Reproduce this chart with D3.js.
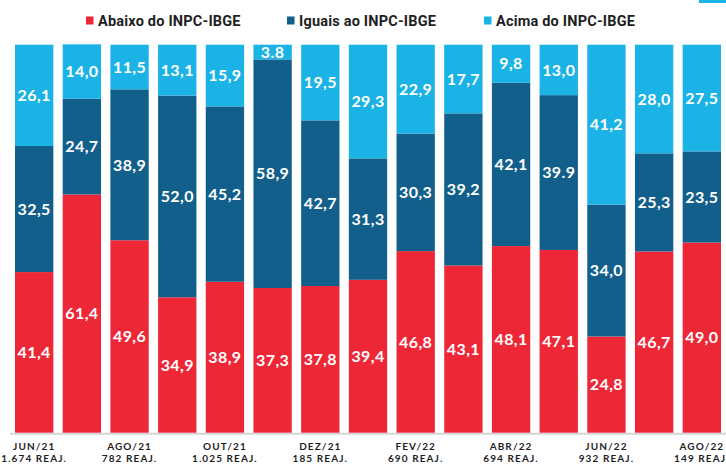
<!DOCTYPE html>
<html>
<head>
<meta charset="utf-8">
<script src="https://cdn.jsdelivr.net/npm/d3@7"></script>
<style>
  html, body { margin: 0; padding: 0; background: #ffffff; }
  svg { display: block; }
</style>
</head>
<body>
<svg id="chart" width="726" height="464"></svg>
<script>
// ---- Data ----
const months = ["JUN/21","JUL/21","AGO/21","SET/21","OUT/21","NOV/21","DEZ/21","JAN/22","FEV/22","MAR/22","ABR/22","MAI/22","JUN/22","JUL/22","AGO/22"];
const abaixo = [41.4, 61.4, 49.6, 34.9, 38.9, 37.3, 37.8, 39.4, 46.8, 43.1, 48.1, 47.1, 24.8, 46.7, 49.0];
const iguais = [32.5, 24.7, 38.9, 52.0, 45.2, 58.9, 42.7, 31.3, 30.3, 39.2, 42.1, 39.9, 34.0, 25.3, 23.5];
const acima  = [26.1, 14.0, 11.5, 13.1, 15.9, 3.8, 19.5, 29.3, 22.9, 17.7, 9.8, 13.0, 41.2, 28.0, 27.5];
const tickMonths = ["JUN/21","AGO/21","OUT/21","DEZ/21","FEV/22","ABR/22","JUN/22","AGO/22"];
const tickReaj   = ["1.674 REAJ.","782 REAJ.","1.025 REAJ.","185 REAJ.","690 REAJ.","694 REAJ.","932 REAJ.","149 REAJ."];
const seriesNames = ["Abaixo do INPC-IBGE","Iguais ao INPC-IBGE","Acima do INPC-IBGE"];
// labels printed with a period instead of a comma in the original
const dotLabels = { iguais: [11], acima: [5] };

const colors = { abaixo: "#EE2737", iguais: "#135F8C", acima: "#1BB3E5" };

// ---- Build ----
const svg = d3.select("#chart");
const x = d3.scaleBand().domain(months).range([15, 721]).paddingInner(0.196).paddingOuter(0);
const y = d3.scaleLinear().domain([0, 100]).range([432.7, 44.7]);

const keys = ["abaixo", "iguais", "acima"];
const table = months.map((m, i) => ({ month: m, abaixo: abaixo[i], iguais: iguais[i], acima: acima[i] }));
const stacked = d3.stack().keys(keys)(table);

const fmtNum = (v, key, i) => {
  const s = d3.format(".1f")(v);
  return (dotLabels[key] || []).includes(i) ? s : s.replace(".", ",");
};

// baseline
svg.append("line")
  .attr("x1", 10).attr("x2", 726)
  .attr("y1", y(0) + 1).attr("y2", y(0) + 1)
  .attr("stroke", "#d4d4d4").attr("stroke-width", 2);

const groups = svg.selectAll("g.series").data(stacked).join("g")
  .attr("class", "series")
  .attr("fill", d => colors[d.key]);

groups.selectAll("rect").data(d => d).join("rect")
  .attr("x", d => x(d.data.month))
  .attr("width", x.bandwidth())
  .attr("y", d => y(d[1]))
  .attr("height", d => y(d[0]) - y(d[1]));

// value labels
stacked.forEach(s => {
  svg.append("g").selectAll("text").data(s).join("text")
    .attr("x", d => x(d.data.month) + x.bandwidth() / 2)
    .attr("y", d => (y(d[0]) + y(d[1])) / 2)
    .attr("dy", "0.36em")
    .attr("text-anchor", "middle")
    .attr("fill", "#ffffff")
    .attr("font-family", "Lato, 'Open Sans', sans-serif")
    .attr("font-weight", 700)
    .attr("font-size", 16)
    .attr("letter-spacing", 0.4)
    .text((d, i) => fmtNum(d[1] - d[0], s.key, i));
});

// x axis labels (every other month)
const axisG = svg.append("g");
tickMonths.forEach((m, i) => {
  const cx = x(m) + x.bandwidth() / 2;
  const t = axisG.append("text")
    .attr("x", cx).attr("y", 450)
    .attr("text-anchor", "middle")
    .attr("fill", "#1e1e1e")
    .attr("font-family", "Lato, sans-serif")
    .attr("font-weight", 700)
    .attr("font-size", 10)
    .attr("letter-spacing", 1.1);
  t.append("tspan").attr("x", cx).attr("y", 450).text(m);
  t.append("tspan").attr("x", cx).attr("y", 462).text(tickReaj[i]);
});

// legend
const legendX = [86, 287, 484];
const legend = svg.append("g");
keys.forEach((k, i) => {
  legend.append("rect")
    .attr("x", legendX[i]).attr("y", 16.5)
    .attr("width", 7.5).attr("height", 8)
    .attr("fill", colors[k]);
  legend.append("text")
    .attr("x", legendX[i] + 12).attr("y", 25.5)
    .attr("fill", "#1e1e1e")
    .attr("font-family", "Roboto, sans-serif")
    .attr("font-weight", 700)
    .attr("font-size", 14.5)
    .attr("letter-spacing", 0.2)
    .text(seriesNames[i]);
});

// small accent at top right
svg.append("rect").attr("x", 699).attr("y", 0).attr("width", 27).attr("height", 3).attr("fill", colors.acima);
</script>
</body>
</html>
